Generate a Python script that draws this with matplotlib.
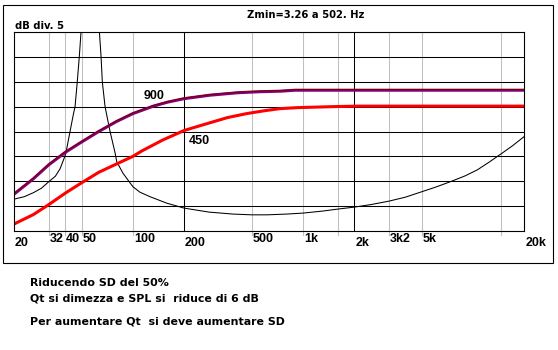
import matplotlib
matplotlib.use("Agg")
import matplotlib.pyplot as plt
from matplotlib.patches import Rectangle
from matplotlib.ticker import NullLocator
from matplotlib.transforms import offset_copy

# ---- data ----
freq_900 = [20, 26, 32, 40, 50, 63, 80, 100, 132, 160, 200, 284, 417, 560, 735, 900, 2000, 5000, 20000]
spl_900 = [7.4, 10.5, 13.3, 15.8, 17.9, 20.0, 22.0, 23.6, 25.1, 25.9, 26.6, 27.3, 27.8, 28.0, 28.1, 28.3, 28.3, 28.3, 28.3]

freq_450 = [20, 26, 32, 40, 50, 63, 84, 100, 113, 150, 200, 250, 300, 360, 467, 600, 735, 930,
            1500, 2100, 5000, 20000]
spl_450 = [1.4, 3.3, 5.3, 7.6, 9.7, 11.8, 13.8, 15.0, 16.1, 18.3, 20.2, 21.2, 22.0, 22.8, 23.6,
           24.2, 24.6, 24.8, 25.0, 25.1, 25.1, 25.1]

freq_z = [20, 23, 26, 29, 32, 35, 37.3, 39.4, 40.4, 42.7, 44.7, 45.7, 47.1, 48.4, 49.6, 52, 56, 60,
          63.5, 65, 66.1, 68.6, 73.4, 78.6, 80.4, 87.5, 100, 110, 126, 158, 200, 280, 388, 500, 615,
          800, 1000, 1300, 1600, 2000, 2500, 3200, 4000, 5000, 6000, 7340, 9000, 10600, 12500,
          14600, 17000, 20000]
z_curve = [6.4, 6.9, 7.7, 8.6, 9.9, 11.0, 12.5, 14.6, 15.7, 20.0, 23.5, 25.0, 30.0, 35.0, 40.2, 55, 70, 55,
           40.2, 35.0, 30.0, 25.0, 20.0, 15.7, 13.9, 11.6, 8.9, 7.8, 6.9, 5.6, 4.6, 3.8, 3.4, 3.25, 3.25,
           3.4, 3.6, 4.0, 4.4, 4.8, 5.3, 6.0, 6.8, 7.9, 8.8, 9.9, 11.1, 12.3, 13.9,
           15.5, 17.1, 19.0]

db_grid = [5, 10, 15, 20, 25, 30, 35]
major_grid = [200, 2000]
minor_grid = [32, 40, 50, 100, 500, 1000, 1600, 3200, 5000, 14500]

tick_freqs = [20, 32, 40, 50, 100, 200, 500, 1000, 2000, 3200, 5000, 20000]
tick_labels = ['20', '32', '40', '50', '100', '200', '500', '1k', '2k', '3k2', '5k', '20k']
tick_low = [True, False, False, False, False, True, False, False, True, False, False, True]

title_text = 'Zmin=3.26 a 502. Hz'
ylabel_text = 'dB div. 5'
label_900 = '900'
label_450 = '450'
notes = ['Riducendo SD del 50%',
         'Qt si dimezza e SPL si  riduce di 6 dB',
         'Per aumentare Qt  si deve aumentare SD']

# ---- layout ----
W, H = 558, 350
fig = plt.figure(figsize=(W / 100, H / 100), dpi=100)
fig.patch.set_facecolor('white')


def fx(px):
    return px / W


def fy(py):
    return 1 - py / H


L, R, T, B = 14, 524.3, 32, 231
ax = fig.add_axes([fx(L), fy(B), fx(R) - fx(L), fy(T) - fy(B)])
ax.set_xscale('log')
ax.set_xlim(20, 20000)
ax.set_ylim(0, 40)
ax.xaxis.set_major_locator(NullLocator())
ax.xaxis.set_minor_locator(NullLocator())
ax.yaxis.set_major_locator(NullLocator())
ax.yaxis.set_minor_locator(NullLocator())
for s in ax.spines.values():
    s.set_linewidth(0.8)
    s.set_color('black')
    s.set_zorder(5)

px_lw = 0.75
for f in minor_grid:
    ax.axvline(f, ymin=-4 / (B - T), ymax=1, color='#c0c0c0', lw=px_lw, clip_on=False, zorder=1)
for y in db_grid:
    ax.axhline(y, color='black', lw=px_lw, zorder=2)
for f in major_grid:
    ax.axvline(f, color='black', lw=px_lw, zorder=2)

# curves
ax.plot(freq_z, z_curve, color='black', lw=0.75, zorder=3)
ax.plot(freq_450, spl_450, color='#ff0000', lw=2.2, zorder=4, solid_capstyle='butt')
ax.plot(freq_900, spl_900, color='#800080', lw=2.2, zorder=4, solid_capstyle='butt')
ax.plot(freq_900, spl_900, color='#800000', lw=0.8, zorder=4,
        transform=offset_copy(ax.transData, fig, x=0, y=0.6, units='dots'))

# tick labels
tick_font = dict(family='Liberation Sans', fontweight='bold', fontsize=9)
for f, lab, low in zip(tick_freqs, tick_labels, tick_low):
    yb = (B - (245.5 if low else 241.7)) / (B - T)
    ax.text(f, yb, lab, transform=offset_copy(ax.get_xaxis_transform(), fig, x=1, y=0, units='dots'),
            ha='left', va='baseline', **tick_font)

# curve labels
fig.text(fx(144), fy(99), label_900, ha='left', va='baseline', **tick_font)
fig.text(fx(189), fy(144), label_450, ha='left', va='baseline', **tick_font)

# titles
head_font = dict(family='DejaVu Sans', fontweight='bold', fontsize=7.2)
fig.text(fx(15), fy(29), ylabel_text, ha='left', va='baseline', **head_font)
fig.text(fx(247), fy(17.5), title_text, ha='left', va='baseline', **head_font)

# outer frame
fig.add_artist(Rectangle((fx(3), fy(262.5)), fx(552.5) - fx(3), fy(5) - fy(262.5),
                         transform=fig.transFigure, fill=False, lw=0.8, ec='black'))

# notes
note_font = dict(family='DejaVu Sans', fontweight='bold', fontsize=7.9)
for txt, yb in zip(notes, [286, 301.7, 325]):
    fig.text(fx(30), fy(yb), txt, ha='left', va='baseline', **note_font)

fig.savefig('out.png', dpi=100, facecolor='white')
